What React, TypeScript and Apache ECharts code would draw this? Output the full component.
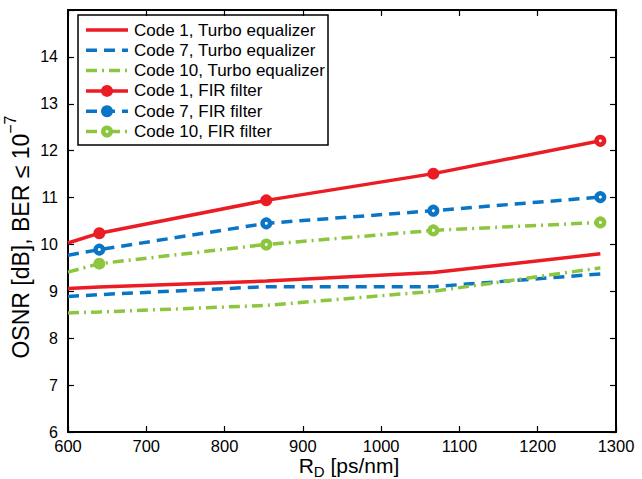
import React, { useEffect, useRef } from "react";
import * as echarts from "echarts";

// R_D [ps/nm] sample points (first point at the axis edge, no marker)
const rd = [600, 640, 853.3, 1066.7, 1280];

// OSNR [dB] values
const code1Turbo = [9.06, 9.09, 9.22, 9.4, 9.8];
const code7Turbo = [8.89, 8.93, 9.1, 9.1, 9.37];
const code10Turbo = [8.54, 8.56, 8.7, 9.0, 9.5];
const code1FIR = [10.03, 10.24, 10.94, 11.51, 12.21];
const code7FIR = [9.77, 9.89, 10.45, 10.72, 11.01];
const code10FIR = [9.41, 9.59, 10.0, 10.3, 10.47];

// marker kind per point: n = none, f = filled, o = open
const code1Marks = ["n", "f", "f", "f", "o"];
const code7Marks = ["n", "o", "o", "o", "o"];
const code10Marks = ["n", "f", "o", "o", "o"];

const yTicks = [6, 7, 8, 9, 10, 11, 12, 13, 14];

const legendNames = [
  "Code 1, Turbo equalizer",
  "Code 7, Turbo equalizer",
  "Code 10, Turbo equalizer",
  "Code 1, FIR filter",
  "Code 7, FIR filter",
  "Code 10, FIR filter",
];

const RED = "#ec1c24";
const BLUE = "#0a75c4";
const GREEN = "#8cc63f";
const FONT = "Liberation Sans, Arial, sans-serif";

const dashBlue = [11, 7];
const dashGreen = [11, 5, 2, 5];

export default function App() {
  const ref = useRef<HTMLDivElement>(null);

  useEffect(() => {
    if (!ref.current) return;
    const chart = echarts.init(ref.current, undefined, { renderer: "svg" });

    const lineData = (ys: number[]) => rd.map((x, i) => [x, ys[i]]);
    const markData = (ys: number[], marks: string[], color: string) =>
      rd.map((x, i) => {
        const m = marks[i];
        if (m === "n") return { value: [x, ys[i]], symbol: "none" };
        if (m === "f")
          return {
            value: [x, ys[i]],
            symbol: "circle",
            symbolSize: 12,
            itemStyle: { color, borderWidth: 0 },
          };
        return {
          value: [x, ys[i]],
          symbol: "circle",
          symbolSize: 7.5,
          itemStyle: { color: "#ffffff", borderColor: color, borderWidth: 4.5, opacity: 1 },
        };
      });

    const seriesDefs = [
      { name: legendNames[0], ys: code1Turbo, color: RED, dash: "solid" as any, marks: null },
      { name: legendNames[1], ys: code7Turbo, color: BLUE, dash: dashBlue, marks: null },
      { name: legendNames[2], ys: code10Turbo, color: GREEN, dash: dashGreen, marks: null },
      { name: legendNames[3], ys: code1FIR, color: RED, dash: "solid" as any, marks: code1Marks },
      { name: legendNames[4], ys: code7FIR, color: BLUE, dash: dashBlue, marks: code7Marks },
      { name: legendNames[5], ys: code10FIR, color: GREEN, dash: dashGreen, marks: code10Marks },
    ];

    const series: any[] = seriesDefs.map((s) => ({
      type: "line",
      name: s.name,
      xAxisIndex: 0,
      yAxisIndex: 0,
      data: s.marks ? markData(s.ys, s.marks, s.color) : lineData(s.ys),
      symbol: s.marks ? "circle" : "none",
      showSymbol: !!s.marks,
      showAllSymbol: true,
      lineStyle: { color: s.color, width: 3.5, type: s.dash, cap: "butt" },
      itemStyle: { color: s.color },
      z: 2,
    }));

    // legend drawn with graphic elements
    const lx = 78, ly = 15, lw = 250, lh = 130;
    const rowY0 = 30, rowStep = 20.3;
    const legendChildren: any[] = [
      {
        type: "rect",
        shape: { x: lx, y: ly, width: lw, height: lh },
        style: { fill: "#ffffff", stroke: "#000000", lineWidth: 1.5 },
      },
    ];
    const legendMarks = ["n", "n", "n", "f", "f", "o"];
    seriesDefs.forEach((s, i) => {
      const y = rowY0 + i * rowStep;
      legendChildren.push({
        type: "line",
        shape: { x1: 86, y1: y, x2: 128, y2: y },
        style: {
          stroke: s.color,
          lineWidth: 3.5,
          lineDash: Array.isArray(s.dash) ? s.dash : null,
        },
      });
      if (legendMarks[i] === "f") {
        legendChildren.push({
          type: "circle",
          shape: { cx: 107, cy: y, r: 6 },
          style: { fill: s.color },
        });
      } else if (legendMarks[i] === "o") {
        legendChildren.push({
          type: "circle",
          shape: { cx: 107, cy: y, r: 3.75 },
          style: { fill: "#ffffff", stroke: s.color, lineWidth: 4.5 },
        });
      }
      legendChildren.push({
        type: "text",
        style: {
          x: 134,
          y,
          text: s.name,
          fill: "#000000",
          font: `17px ${FONT}`,
          verticalAlign: "middle",
          align: "left",
        },
      });
    });

    const axisLine = { show: true, lineStyle: { color: "#000", width: 2 } };
    const tick = { show: true, inside: true, length: 6, lineStyle: { color: "#000", width: 1.2 } };

    chart.setOption({
      animation: false,
      backgroundColor: "#ffffff",
      grid: { left: 68, right: 26, top: 10, bottom: 47, containLabel: false, outerBoundsMode: "none" },
      xAxis: [
        {
          type: "value",
          min: 600,
          max: 1300,
          interval: 100,
          position: "bottom",
          axisLine,
          axisTick: tick,
          splitLine: { show: false },
          axisLabel: {
            color: "#000",
            fontSize: 16.5,
            fontFamily: FONT,
            margin: 5,
            formatter: (v: number) => String(v),
          },
          name: "{a|R}{s|D}{a| [ps/nm]}",
          nameLocation: "middle",
          nameGap: 22,
          nameMoveOverlap: false,
          nameTextStyle: {
            padding: [0, 0, 0, 14],
            rich: {
              a: { fontSize: 21, fontFamily: FONT, color: "#000", verticalAlign: "bottom", lineHeight: 22 },
              s: { fontSize: 15, fontFamily: FONT, color: "#000", verticalAlign: "bottom", lineHeight: 16, padding: [0, 0, -3, 0] },
            },
          },
        },
        {
          type: "value",
          min: 600,
          max: 1300,
          interval: 100,
          position: "top",
          axisLine,
          axisTick: tick,
          splitLine: { show: false },
          axisLabel: { show: false },
        },
      ],
      yAxis: [
        {
          type: "value",
          min: 6,
          max: 15,
          interval: 1,
          position: "left",
          axisLine,
          axisTick: tick,
          splitLine: { show: false },
          axisLabel: {
            color: "#000",
            fontSize: 16,
            fontFamily: FONT,
            margin: 10,
            formatter: (v: number) => (yTicks.indexOf(v) >= 0 ? String(v) : ""),
          },
          name: "{a|OSNR [dB], BER ≤ 10}{s|−7}",
          nameLocation: "middle",
          nameGap: 36,
          nameMoveOverlap: false,
          nameRotate: 90,
          nameTextStyle: {
            padding: [0, 32, 0, 0],
            rich: {
              a: { fontSize: 23, fontFamily: FONT, color: "#000", verticalAlign: "bottom", lineHeight: 30 },
              s: { fontSize: 16, fontFamily: FONT, color: "#000", verticalAlign: "top", lineHeight: 30 },
            },
          },
        },
        {
          type: "value",
          min: 6,
          max: 15,
          interval: 1,
          position: "right",
          axisLine,
          axisTick: tick,
          splitLine: { show: false },
          axisLabel: { show: false },
        },
      ],
      series,
      graphic: [{ type: "group", children: legendChildren, z: 100 }],
    });

    return () => chart.dispose();
  }, []);

  return (
    <div
      ref={ref}
      style={{ position: "fixed", left: 0, top: 0, width: 642, height: 479 }}
    />
  );
}
